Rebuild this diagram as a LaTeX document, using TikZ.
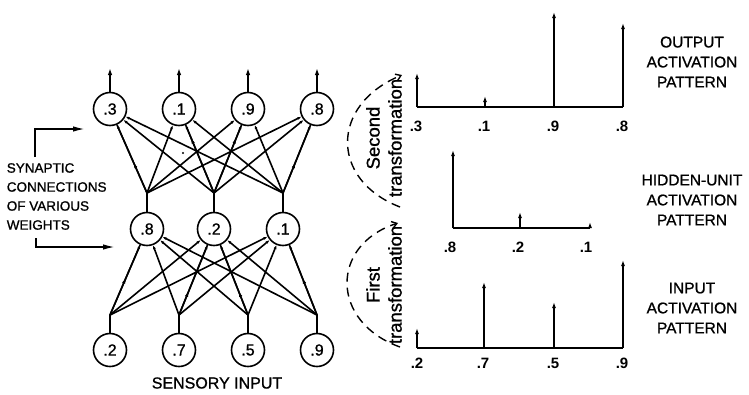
\documentclass[tikz,border=0pt]{standalone}
\usepackage{fontspec}
\setmainfont{Liberation Sans}
\newfontfamily\scanfont[FakeBold=1]{Liberation Sans}
\usetikzlibrary{arrows.meta,decorations.markings}
\begin{document}
\begin{tikzpicture}[x=1pt,y=-1pt,line width=1.6pt,
  unit/.style={circle,draw,minimum size=33pt,inner sep=0pt,font=\scanfont\fontsize{16}{18}\selectfont},
  conn/.style={-{Latex[length=4pt,width=3pt]}},
  midarr/.style={postaction={decorate},decoration={markings,mark=at position #1 with {\arrow{Latex[length=5pt,width=3.5pt]}}}},
  outarr/.style={-{Latex[length=7pt,width=4.5pt]}},
  bar/.style={-{Latex[length=6pt,width=4pt]},line width=1.6pt},
  base/.style={line width=1.8pt},
  vallabel/.style={font=\bfseries\fontsize{15}{17}\selectfont,inner sep=0pt},
  caption/.style={align=center,font=\scanfont\fontsize{15.5}{20}\selectfont,inner sep=0pt},
  sidelabel/.style={align=left,anchor=west,font=\scanfont\fontsize{13.5}{19}\selectfont,inner sep=0pt},
  rotlabel/.style={rotate=90,align=center,font=\scanfont\fontsize{18.5}{22}\selectfont,inner sep=0pt},
  bracket/.style={-{Latex[length=12pt,width=5.5pt]}},
  transarc/.style={line width=1.4pt,dash pattern=on 9pt off 6pt,-{Straight Barb[length=5pt,width=7pt]}}
]
\useasboundingbox (0,0) rectangle (749,394);

% ---------- network ----------
\node[unit] (O1) at (110,109) {.3};
\node[unit] (O2) at (179,109) {.1};
\node[unit] (O3) at (248,109) {.9};
\node[unit] (O4) at (317,109) {.8};
\node[unit] (H1) at (147,229) {.8};
\node[unit] (H2) at (214,229) {.2};
\node[unit] (H3) at (283,229) {.1};
\node[unit] (I1) at (110,350) {.2};
\node[unit] (I2) at (179,350) {.7};
\node[unit] (I3) at (248,350) {.5};
\node[unit] (I4) at (317,350) {.9};

\coordinate (HJ1) at (147,193);
\coordinate (HJ2) at (214,193);
\coordinate (HJ3) at (283,193);
\coordinate (IJ1) at (110,315);
\coordinate (IJ2) at (179,315);
\coordinate (IJ3) at (248,315);
\coordinate (IJ4) at (317,315);

\coordinate (OA1) at (110,68);
\coordinate (OA2) at (179,68);
\coordinate (OA3) at (248,68);
\coordinate (OA4) at (317,68);
\foreach \k in {1,2,3,4} { \draw[outarr] (O\k) -- (OA\k); }

% stems
\foreach \k in {1,2,3} { \draw (H\k) -- (HJ\k); }
\foreach \k in {1,2,3,4} { \draw (I\k) -- (IJ\k); }

% connections
\foreach \j in {1,2,3} { \foreach \i in {1,2,3,4} { \draw[conn] (HJ\j) -- (O\i); } }
\foreach \j in {1,2,3,4} { \foreach \i in {1,2,3} { \draw[conn] (IJ\j) -- (H\i); } }

% mid arrows
\draw[midarr=0.44] (HJ1) -- (O1);
\draw[midarr=0.8] (HJ2) -- (O2);
\draw[midarr=0.8] (HJ2) -- (O3);
\draw[midarr=0.44] (HJ3) -- (O4);
\draw[midarr=0.52] (IJ1) -- (H1);
\draw[midarr=0.33] (IJ2) -- (H2);
\draw[midarr=0.33] (IJ3) -- (H2);
\draw[midarr=0.52] (IJ4) -- (H3);

\fill (183,153) circle (1.2pt);

% left labels
\node[sidelabel] (syn) at (6,196.5) {SYNAPTIC\\CONNECTIONS\\OF VARIOUS\\WEIGHTS};
\coordinate (bkA) at (35,157);
\coordinate (bkB) at (85,129);
\coordinate (bkC) at (36,238);
\coordinate (bkD) at (115,247);
\draw[bracket] (bkA) |- (bkB);
\draw[bracket] (bkC) |- (bkD);

\node[caption,font=\scanfont\fontsize{16}{20}\selectfont] (sens) at (217,383) {SENSORY INPUT};

% ---------- transformation arcs ----------
\coordinate (sa) at (400,207);
\coordinate (sb) at (402,75);
\draw[transarc] (sa) .. controls (330,180) and (330,105) .. (sb);
\node[rotlabel] (sec) at (384,138) {Second\\transformation};

\coordinate (fa) at (400,347);
\coordinate (fb) at (398,223);
\draw[transarc] (fa) .. controls (330,322) and (330,245) .. (fb);
\node[rotlabel] (fir) at (384,285) {First\\transformation};

% ---------- output chart ----------
\coordinate (ob1) at (417,107);
\coordinate (ob2) at (485,107);
\coordinate (ob3) at (554,107);
\coordinate (ob4) at (623,107);
\coordinate (ot1) at (417,73);
\coordinate (ot2) at (485,96);
\coordinate (ot3) at (554,12);
\coordinate (ot4) at (623,23);
\draw[base] (ob1) -- (ob4);
\foreach \k in {1,2,3,4} { \draw[bar] (ob\k) -- (ot\k); }
\node[vallabel] (ol1) at (416,126) {.3};
\node[vallabel] (ol2) at (484,126) {.1};
\node[vallabel] (ol3) at (553,126) {.9};
\node[vallabel] (ol4) at (622,126) {.8};
\node[caption] (outcap) at (692,62) {OUTPUT\\ACTIVATION\\PATTERN};

% ---------- hidden chart ----------
\coordinate (hb1) at (453,228);
\coordinate (hb2) at (520,228);
\coordinate (hb3) at (590,228);
\coordinate (ht1) at (453,150);
\coordinate (ht2) at (520,212);
\coordinate (ht3) at (590,222);
\draw[base] (hb1) -- (hb3);
\foreach \k in {1,2,3} { \draw[bar] (hb\k) -- (ht\k); }
\node[vallabel] (hl1) at (450,247) {.8};
\node[vallabel] (hl2) at (518,247) {.2};
\node[vallabel] (hl3) at (586,247) {.1};
\node[caption] (hidcap) at (692,200) {HIDDEN-UNIT\\ACTIVATION\\PATTERN};

% ---------- input chart ----------
\coordinate (ib1) at (417,348);
\coordinate (ib2) at (484,348);
\coordinate (ib3) at (554,348);
\coordinate (ib4) at (623,348);
\coordinate (it1) at (417,328);
\coordinate (it2) at (484,282);
\coordinate (it3) at (554,302);
\coordinate (it4) at (623,260);
\draw[base] (ib1) -- (ib4);
\foreach \k in {1,2,3,4} { \draw[bar] (ib\k) -- (it\k); }
\node[vallabel] (il1) at (417,363) {.2};
\node[vallabel] (il2) at (483,363) {.7};
\node[vallabel] (il3) at (553,363) {.5};
\node[vallabel] (il4) at (622,363) {.9};
\node[caption] (incap) at (692,308) {INPUT\\ACTIVATION\\PATTERN};
\end{tikzpicture}
\end{document}
